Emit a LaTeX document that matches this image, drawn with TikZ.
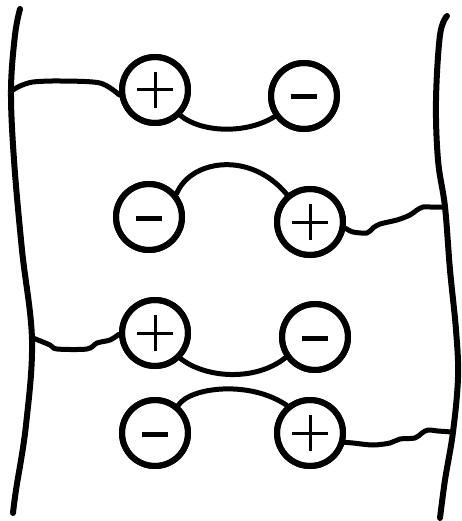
\documentclass[tikz,border=0pt]{standalone}
\begin{document}
\begin{tikzpicture}[x=1pt,y=-1pt,
  wall/.style={line width=6pt,line cap=round,line join=round},
  wire/.style={line width=5pt,line cap=round,line join=round},
  ion/.style={circle,draw,line width=6pt,minimum size=66pt,inner sep=0pt,fill=white},
  plusbar/.style={line width=3pt},
  minusbar/.style={line width=5pt}]
\useasboundingbox (0,0) rectangle (461,521);

% membrane walls
\draw[wall] plot[smooth,tension=0.6] coordinates {(20,9) (15,35) (11,90) (14,160) (22,250) (32,340) (26,425) (16,490) (13,513)};
\draw[wall] plot[smooth,tension=0.6] coordinates {(447,16) (440,35) (436,100) (438,160) (445,207) (450,270) (456,330) (458,377) (453,432) (445,480) (440,518)};

% junction points on the walls
\coordinate (wA) at (13,90);
\coordinate (wB) at (445,207);
\coordinate (wC) at (33,338);
\coordinate (wD) at (452,432);

% charged groups
\node[ion] (A1) at (155,90) {};
\node[ion] (A2) at (304,96) {};
\node[ion] (B1) at (149,217) {};
\node[ion] (B2) at (310,222) {};
\node[ion] (C1) at (155,333) {};
\node[ion] (C2) at (315,337) {};
\node[ion] (D1) at (155,433) {};
\node[ion] (D2) at (310,433) {};

% signs
\foreach \n in {A1,B2,C1,D2}{
  \draw[plusbar] ([xshift=-18pt]\n.center) -- ([xshift=18pt]\n.center);
  \draw[plusbar] ([yshift=-18pt]\n.center) -- ([yshift=18pt]\n.center);
}
\foreach \n in {A2,B1,C2,D1}{
  \draw[minusbar] ([xshift=-13pt,yshift=-1pt]\n.center) -- ([xshift=13pt,yshift=-1pt]\n.center);
}

% chains between the groups
\draw[wire] (A1.-45) .. controls (200,132) and (245,135) .. (A2.215);
\draw[wire] (B1.40) .. controls (190,160) and (250,150) .. (B2.130);
\draw[wire] (C1.-45) .. controls (205,378) and (255,382) .. (C2.215);
\draw[wire] (D1.50) .. controls (190,387) and (250,380) .. (D2.130);

% chains to the walls
\draw[wire] plot[smooth,tension=0.5] coordinates {(wA) (20,86) (33,82) (60,81) (100,83) (A1.188)};
\draw[wire] plot[smooth,tension=0.5] coordinates {(B2.-10) (353,232) (367,233) (373,228) (380,224) (397,220) (410,215) (417,210) (423,207) (430,207) (wB)};
\draw[wire] plot[smooth,tension=0.5] coordinates {(wC) (50,345) (57,349) (87,349) (97,343) (110,340) (C1.182)};
\draw[wire] plot[smooth,tension=0.5] coordinates {(D2.-15) (353,443) (373,445) (390,443) (400,439) (415,438) (422,433) (428,430) (438,431) (wD)};

% redraw groups on top of the chain ends
\foreach \n in {A1,A2,B1,B2,C1,C2,D1,D2}{
  \draw[line width=6pt] (\n) circle (33pt);
}
\end{tikzpicture}
\end{document}
